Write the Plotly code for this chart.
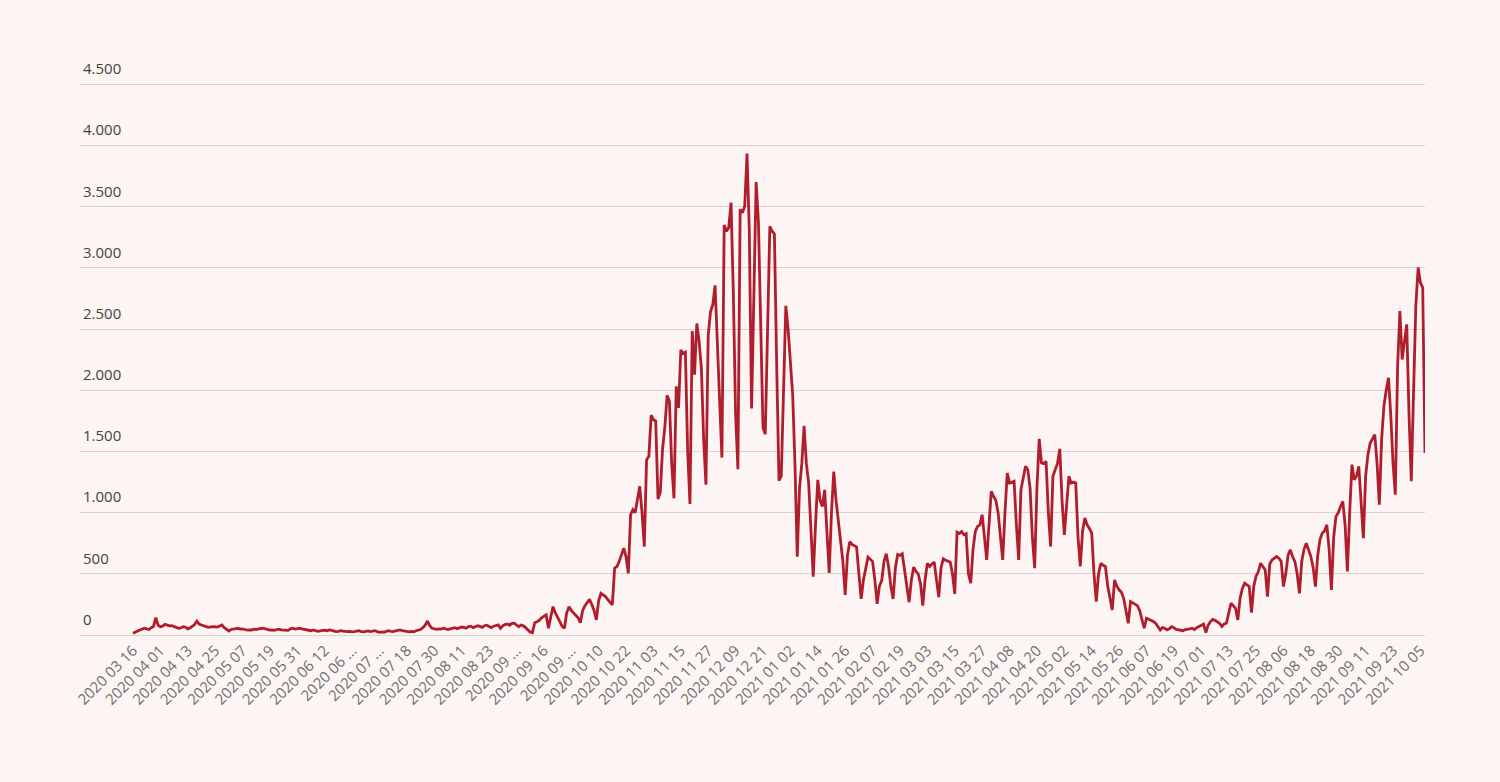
import plotly.graph_objects as go
import pandas as pd

# ---- categories (daily dates; the series jumps from 03 16 to 03 21) ----
FIRST_DAY = "2020 03 16"
REST_START = "2020-03-21"
N_REST = 566
categories = [FIRST_DAY] + [d.strftime("%Y %m %d") for d in pd.date_range(REST_START, periods=N_REST, freq="D")]

# ---- daily values ----
values = [
    14, 25, 35, 41, 48, 55, 50,
    45, 60, 70, 142, 80, 68, 72,
    87, 80, 75, 76, 70, 62, 55,
    58, 68, 65, 50, 58, 70, 85,
    114, 90, 82, 75, 70, 62, 66,
    70, 68, 65, 72, 82, 60, 45,
    33, 45, 50, 55, 55, 48, 50,
    45, 40, 42, 41, 48, 45, 50,
    52, 55, 50, 45, 40, 42, 38,
    45, 48, 42, 41, 45, 38, 50,
    55, 48, 52, 55, 50, 45, 40,
    38, 35, 42, 33, 30, 33, 38,
    40, 35, 41, 38, 32, 28, 30,
    35, 32, 28, 27, 30, 25, 27,
    32, 35, 28, 25, 30, 33, 28,
    30, 35, 28, 22, 25, 22, 30,
    35, 30, 28, 33, 38, 41, 35,
    30, 27, 25, 30, 27, 35, 40,
    45, 60, 80, 114, 75, 55, 50,
    46, 50, 48, 55, 52, 45, 50,
    55, 60, 52, 58, 65, 62, 55,
    68, 72, 60, 65, 75, 70, 62,
    76, 80, 70, 60, 72, 78, 82,
    55, 75, 85, 90, 80, 95, 96,
    85, 68, 82, 75, 60, 40, 25,
    19, 100, 109, 120, 140, 150, 164,
    55, 150, 232, 180, 150, 110, 70,
    55, 180, 232, 200, 177, 160, 140,
    100, 200, 240, 270, 292, 250, 200,
    123, 280, 341, 330, 314, 290, 270,
    246, 546, 560, 600, 650, 710, 640,
    505, 983, 1024, 1000, 1100, 1215, 1000,
    723, 1433, 1460, 1796, 1760, 1748, 1112,
    1166, 1518, 1700, 1959, 1910, 1400, 1117,
    2032, 1856, 2330, 2300, 2311, 1500, 1071,
    2484, 2127, 2546, 2400, 2181, 1600, 1228,
    2450, 2641, 2700, 2858, 2400, 1800, 1450,
    3350, 3300, 3331, 3534, 2800, 1800, 1355,
    3480, 3450, 3507, 3935, 3300, 1851, 2700,
    3702, 3372, 2500, 1694, 1640, 2500, 3340,
    3300, 3277, 2200, 1261, 1301, 2000, 2690,
    2500, 2200, 1964, 1400, 640, 1200, 1400,
    1710, 1400, 1243, 900, 477, 900, 1268,
    1100, 1050, 1186, 800, 507, 1000, 1336,
    1100, 941, 800, 600, 327, 650, 763,
    740, 730, 718, 500, 295, 450, 560,
    636, 620, 600, 450, 254, 400, 445,
    600, 664, 560, 400, 295, 550, 658,
    650, 664, 550, 400, 268, 450, 555,
    520, 500, 420, 241, 450, 587, 560,
    580, 596, 450, 309, 550, 623, 610,
    600, 596, 500, 336, 841, 830, 846,
    819, 828, 500, 423, 700, 846, 887,
    900, 983, 800, 614, 900, 1174, 1133,
    1100, 1000, 800, 614, 1000, 1324, 1242,
    1250, 1256, 900, 614, 1188, 1300, 1379,
    1351, 1200, 800, 546, 1200, 1603, 1406,
    1400, 1420, 1000, 723, 1297, 1351, 1400,
    1521, 1100, 819, 1100, 1297, 1242, 1250,
    1242, 800, 560, 850, 956, 900, 870,
    833, 500, 273, 500, 587, 570, 560,
    400, 300, 205, 450, 400, 369, 350,
    300, 180, 96, 273, 260, 246, 240,
    200, 120, 55, 137, 130, 123, 110,
    96, 70, 41, 60, 55, 41, 50,
    68, 60, 45, 40, 38, 35, 45,
    46, 50, 55, 45, 60, 68, 80,
    90, 19, 80, 110, 128, 120, 110,
    96, 70, 90, 96, 180, 259, 240,
    218, 123, 300, 380, 423, 410, 396,
    183, 400, 480, 519, 587, 560, 532,
    314, 580, 614, 630, 641, 628, 600,
    396, 500, 650, 696, 641, 600, 500,
    341, 600, 700, 751, 700, 641, 550,
    396, 650, 780, 833, 850, 901, 700,
    369, 800, 969, 1000, 1050, 1092, 900,
    519, 1000, 1392, 1269, 1300, 1379, 1100,
    792, 1300, 1474, 1570, 1600, 1638, 1400,
    1065, 1600, 1870, 2000, 2102, 1800, 1400,
    1147, 2200, 2648, 2252, 2400, 2539, 1800,
    1256, 2000, 2700, 3003, 2880, 2839, 1488,
]

# ---- axis tick labels ----
TICK_LABELS = [
    "2020 03 16", "2020 04 01", "2020 04 13", "2020 04 25", "2020 05 07", "2020 05 19",
    "2020 05 31", "2020 06 12", "2020 06 …", "2020 07 …", "2020 07 18", "2020 07 30",
    "2020 08 11", "2020 08 23", "2020 09 …", "2020 09 16", "2020 09 …", "2020 10 10",
    "2020 10 22", "2020 11 03", "2020 11 15", "2020 11 27", "2020 12 09", "2020 12 21",
    "2021 01 02", "2021 01 14", "2021 01 26", "2021 02 07", "2021 02 19", "2021 03 03",
    "2021 03 15", "2021 03 27", "2021 04 08", "2021 04 20", "2021 05 02", "2021 05 14",
    "2021 05 26", "2021 06 07", "2021 06 19", "2021 07 01", "2021 07 13", "2021 07 25",
    "2021 08 06", "2021 08 18", "2021 08 30", "2021 09 11", "2021 09 23", "2021 10 05",
]
TICK_STEP = 12
Y_TICKS = [0, 500, 1000, 1500, 2000, 2500, 3000, 3500, 4000, 4500]

BG = "#fdf5f3"
GRID = "#d9d2d0"
LINE = "#b01e2d"
TXT = "#6e6e6e"

tick_vals = categories[::TICK_STEP][:len(TICK_LABELS)]

fig = go.Figure(
    go.Scatter(
        x=categories,
        y=values,
        mode="lines",
        line=dict(color=LINE, width=2.8),
        hoverinfo="skip",
    )
)

fig.update_layout(
    width=1500,
    height=782,
    margin=dict(l=80, r=75, t=51, b=147),
    paper_bgcolor=BG,
    plot_bgcolor=BG,
    showlegend=False,
    separators=",.",
    font=dict(family="Open Sans", size=15, color=TXT),
)

fig.update_xaxes(
    type="category",
    range=[-23.2, 566],
    tickmode="array",
    tickvals=tick_vals,
    ticktext=TICK_LABELS,
    tickangle=-45,
    showgrid=False,
    zeroline=False,
    showline=True,
    linecolor=GRID,
    linewidth=1,
    ticks="",
)

fig.update_yaxes(
    range=[0, 4773],
    tickmode="array",
    tickvals=Y_TICKS,
    tickformat=",d",
    showgrid=True,
    gridcolor=GRID,
    gridwidth=1,
    zeroline=False,
    showline=False,
    ticks="",
    ticklabelposition="inside top",
    ticklabelshift=-5,
)

fig.write_html(
    "out.html",
    config={"displayModeBar": False},
    post_script="document.body.style.margin='0';document.body.style.background='" + BG + "';",
)
